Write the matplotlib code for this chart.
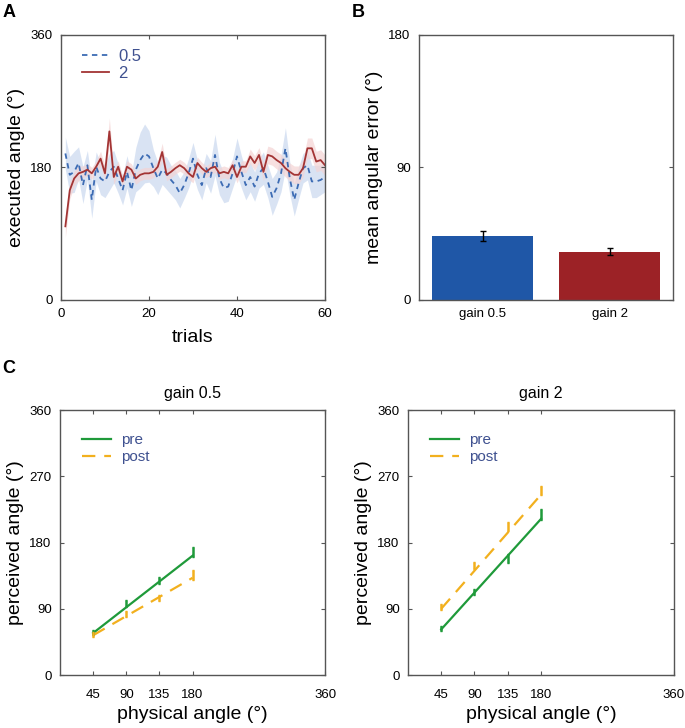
import matplotlib
matplotlib.use("Agg")
import matplotlib.pyplot as plt
import numpy as np

plt.rcParams['font.family'] = ['Liberation Sans', 'DejaVu Sans']

# panel A: executed angle per trial
trials = list(range(1, 61))
gain05_mean = [199, 170, 174, 186, 156, 183, 136, 181, 165, 161,
               174, 181, 165, 149, 174, 149, 177, 190, 199, 195,
               179, 165, 177, 172, 163, 156, 145, 156, 172, 192,
               170, 156, 179, 167, 197, 165, 152, 154, 172, 195,
               174, 156, 167, 154, 172, 179, 161, 140, 152, 172,
               206, 165, 136, 159, 179, 183, 161, 161, 163, 167]
gain05_sem = [22, 25, 28, 22, 25, 20, 25, 20, 22, 22,
              25, 22, 20, 20, 22, 22, 30, 38, 40, 35,
              25, 22, 20, 22, 20, 20, 20, 18, 20, 22,
              20, 20, 20, 22, 28, 22, 20, 20, 20, 25,
              22, 20, 20, 20, 20, 22, 22, 25, 22, 25,
              28, 22, 22, 22, 20, 20, 22, 22, 20, 20]
gain2_mean = [100, 149, 165, 172, 174, 177, 172, 181, 192, 172,
              229, 167, 181, 161, 181, 177, 165, 170, 172, 172,
              174, 181, 201, 170, 174, 179, 183, 179, 172, 167,
              186, 179, 174, 179, 181, 172, 174, 172, 183, 167,
              181, 181, 195, 186, 197, 174, 197, 195, 190, 186,
              179, 174, 170, 170, 179, 206, 206, 188, 190, 183]
gain2_sem = [15, 12, 10, 10, 8, 8, 8, 8, 10, 10,
             18, 10, 8, 8, 8, 8, 8, 8, 8, 8,
             8, 8, 12, 8, 8, 8, 8, 8, 8, 8,
             8, 8, 8, 8, 8, 8, 8, 8, 8, 8,
             8, 8, 10, 10, 10, 12, 12, 12, 12, 12,
             12, 12, 12, 12, 12, 14, 14, 14, 14, 14]

# panel B: mean angular error
bar_labels = ['gain 0.5', 'gain 2']
bar_values = [43.5, 32.8]
bar_errors = [3.5, 2.3]

# panel C: perceived vs physical angle
physical = [45, 90, 135, 180]
fit_x = [45, 180]
left_pre = [58, 97, 128, 167]
left_pre_err = [3, 5, 5, 7]
left_post = [55, 83, 105, 136]
left_post_err = [3, 4, 4, 7]
left_pre_fit = [57, 162]
left_post_fit = [54, 132]
right_pre = [63, 113, 158, 218]
right_pre_err = [3, 4, 6, 7]
right_post = [92, 149, 202, 251]
right_post_err = [4, 5, 6, 6]
right_pre_fit = [62, 212]
right_post_fit = [90, 245]

blue = '#3d6cb4'
blue_fill = '#d3dff2'
red = '#a33434'
red_fill = '#f4d4d4'
bar_blue = '#1f57a7'
bar_red = '#9c2226'
green = '#1f9a3a'
orange = '#f2b01e'
legend_text = '#3f5190'
spine = '#555555'


def style_axes(ax):
    for s in ax.spines.values():
        s.set_color(spine)
        s.set_linewidth(1.0)
    ax.tick_params(direction='in', length=3, top=True, right=True,
                   labelsize=9.5, color=spine, pad=6)


fig = plt.figure(figsize=(6.85, 7.28), dpi=100)

# A
axA = fig.add_axes([0.089, 0.588, 0.3855, 0.364])
axA.fill_between(trials, np.array(gain05_mean) - gain05_sem,
                 np.array(gain05_mean) + gain05_sem,
                 color=blue_fill, alpha=0.85, lw=0)
axA.fill_between(trials, np.array(gain2_mean) - gain2_sem,
                 np.array(gain2_mean) + gain2_sem,
                 color=red_fill, alpha=0.7, lw=0)
axA.plot(trials, gain05_mean, color=blue, lw=1.3, ls=(0, (3, 2.5)), label='0.5')
axA.plot(trials, gain2_mean, color=red, lw=1.3, label='2')
axA.set_xlim(0, 60)
axA.set_ylim(0, 360)
axA.set_xticks([0, 20, 40, 60])
axA.set_yticks([0, 180, 360])
axA.set_xlabel('trials', fontsize=14, labelpad=6)
axA.set_ylabel('executed angle (°)', fontsize=14, labelpad=4)
style_axes(axA)
legA = axA.legend(loc='upper left', frameon=False, fontsize=12,
                  handlelength=1.6, handletextpad=0.6, borderaxespad=0.3,
                  labelspacing=0.1, bbox_to_anchor=(0.035, 0.99))
for t in legA.get_texts():
    t.set_color(legend_text)

# B
axB = fig.add_axes([0.6117, 0.588, 0.3708, 0.364])
axB.bar([1, 2], bar_values, width=0.8, color=[bar_blue, bar_red])
axB.errorbar([1, 2], bar_values, yerr=bar_errors, fmt='none',
             ecolor='black', elinewidth=1, capsize=2)
axB.set_xlim(0.5, 2.5)
axB.set_ylim(0, 180)
axB.set_xticks([1, 2])
axB.set_xticklabels(bar_labels)
axB.set_yticks([0, 90, 180])
axB.set_ylabel('mean angular error (°)', fontsize=14, labelpad=4)
style_axes(axB)
axB.tick_params(axis='x', length=0)


def panel_c(ax, title, pre, pre_err, post, post_err, pre_fit, post_fit):
    ax.plot(fit_x, pre_fit, color=green, lw=1.6, label='pre')
    ax.plot(fit_x, post_fit, color=orange, lw=1.6, ls=(0, (6, 4)), label='post')
    ax.errorbar(physical, pre, yerr=pre_err, fmt='none', ecolor=green,
                elinewidth=1.8, capsize=1)
    ax.errorbar(physical, post, yerr=post_err, fmt='none', ecolor=orange,
                elinewidth=1.8, capsize=1)
    ax.set_xlim(0, 360)
    ax.set_ylim(0, 360)
    ax.set_xticks([45, 90, 135, 180, 360])
    ax.set_yticks([0, 90, 180, 270, 360])
    ax.set_xlabel('physical angle (°)', fontsize=14)
    ax.set_ylabel('perceived angle (°)', fontsize=14, labelpad=4)
    ax.set_title(title, fontsize=11.5, pad=9)
    style_axes(ax)
    ax.tick_params(axis='x', pad=10)
    leg = ax.legend(loc='upper left', frameon=False, fontsize=11,
                    handlelength=1.9, handletextpad=0.7, labelspacing=0.2,
                    bbox_to_anchor=(0.03, 0.965))
    for t in leg.get_texts():
        t.set_color(legend_text)


axC1 = fig.add_axes([0.0876, 0.0728, 0.3869, 0.364])
panel_c(axC1, 'gain 0.5', left_pre, left_pre_err, left_post, left_post_err,
        left_pre_fit, left_post_fit)
axC2 = fig.add_axes([0.5956, 0.0728, 0.3883, 0.364])
panel_c(axC2, 'gain 2', right_pre, right_pre_err, right_post, right_post_err,
        right_pre_fit, right_post_fit)

fig.text(0.004, 0.995, 'A', fontsize=13, fontweight='bold', va='top')
fig.text(0.513, 0.995, 'B', fontsize=13, fontweight='bold', va='top')
fig.text(0.004, 0.505, 'C', fontsize=13, fontweight='bold', va='top')

fig.savefig('out.png', dpi=100)
